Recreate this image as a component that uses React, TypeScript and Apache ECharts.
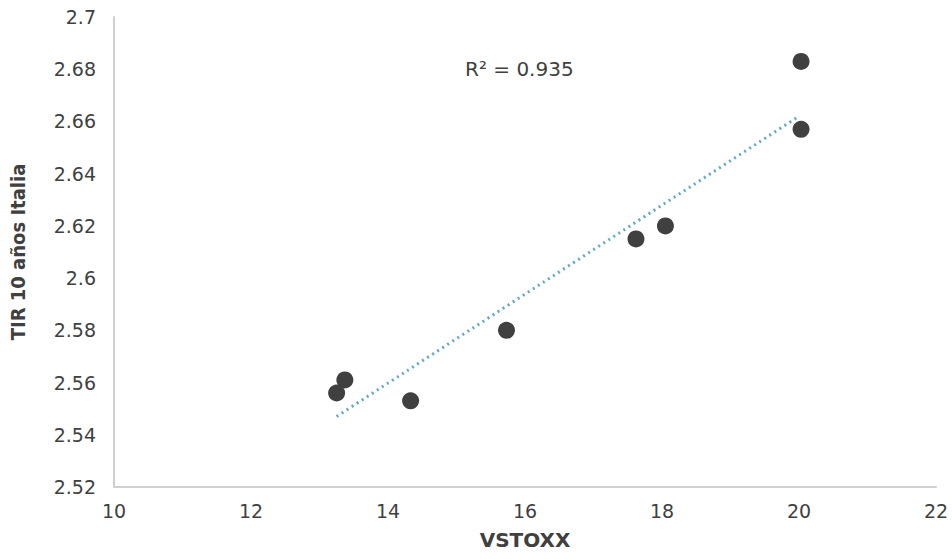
import React, { useEffect, useRef } from "react";
import * as echarts from "echarts";

const vstoxx = [13.25, 13.37, 14.33, 15.73, 17.62, 18.05, 20.03, 20.03];
const tir10 = [2.556, 2.561, 2.553, 2.58, 2.615, 2.62, 2.657, 2.683];
const trendX = [13.25, 20.0];
const trendY = [2.547, 2.662];
const r2Label = "R² = 0.935";
const xTitle = "VSTOXX";
const yTitle = "TIR 10 años Italia";

export default function App() {
  const ref = useRef<HTMLDivElement>(null);
  useEffect(() => {
    document.body.style.margin = "0";
    const chart = echarts.init(ref.current!, null, { renderer: "svg" });
    const font = "'DejaVu Sans', sans-serif";
    chart.setOption({
      animation: false,
      textStyle: { fontFamily: font },
      grid: { left: 113, right: 16, top: 17, bottom: 72 },
      xAxis: {
        type: "value",
        min: 10,
        max: 22,
        interval: 2,
        name: xTitle,
        nameLocation: "middle",
        nameGap: 43,
        nameTextStyle: { fontFamily: font, fontSize: 20, fontWeight: "bold", color: "#404040" },
        axisLine: { show: true, lineStyle: { color: "#d0d0d0", width: 2 } },
        axisTick: { show: false },
        splitLine: { show: false },
        axisLabel: { fontFamily: font, fontSize: 19, color: "#404040", margin: 14 },
      },
      yAxis: {
        type: "value",
        min: 2.52,
        max: 2.7,
        interval: 0.02,
        name: yTitle,
        nameLocation: "middle",
        nameGap: 86,
        nameTextStyle: {
          fontFamily: "'DejaVu Sans Condensed', 'DejaVu Sans', sans-serif",
          fontSize: 20,
          fontWeight: "bold",
          color: "#404040",
        },
        axisLine: { show: true, lineStyle: { color: "#d0d0d0", width: 2 } },
        axisTick: { show: false },
        splitLine: { show: false },
        axisLabel: {
          fontFamily: font,
          fontSize: 19,
          color: "#404040",
          margin: 18,
          formatter: (v: number) => String(parseFloat(v.toFixed(2))),
        },
      },
      graphic: [
        {
          type: "text",
          left: 465,
          top: 59,
          style: { text: r2Label, fontFamily: font, fontSize: 20, fill: "#404040" },
        },
      ],
      series: [
        {
          type: "line",
          data: trendX.map((x, i) => [x, trendY[i]]),
          showSymbol: false,
          symbol: "none",
          lineStyle: { color: "#62a8c8", width: 3, type: [2, 4] },
          z: 1,
        },
        {
          type: "scatter",
          data: vstoxx.map((x, i) => [x, tir10[i]]),
          symbol: "circle",
          symbolSize: 17,
          itemStyle: { color: "#404040", opacity: 1 },
          z: 2,
        },
      ],
    });
    return () => chart.dispose();
  }, []);
  return <div ref={ref} style={{ width: 952, height: 559 }} />;
}
